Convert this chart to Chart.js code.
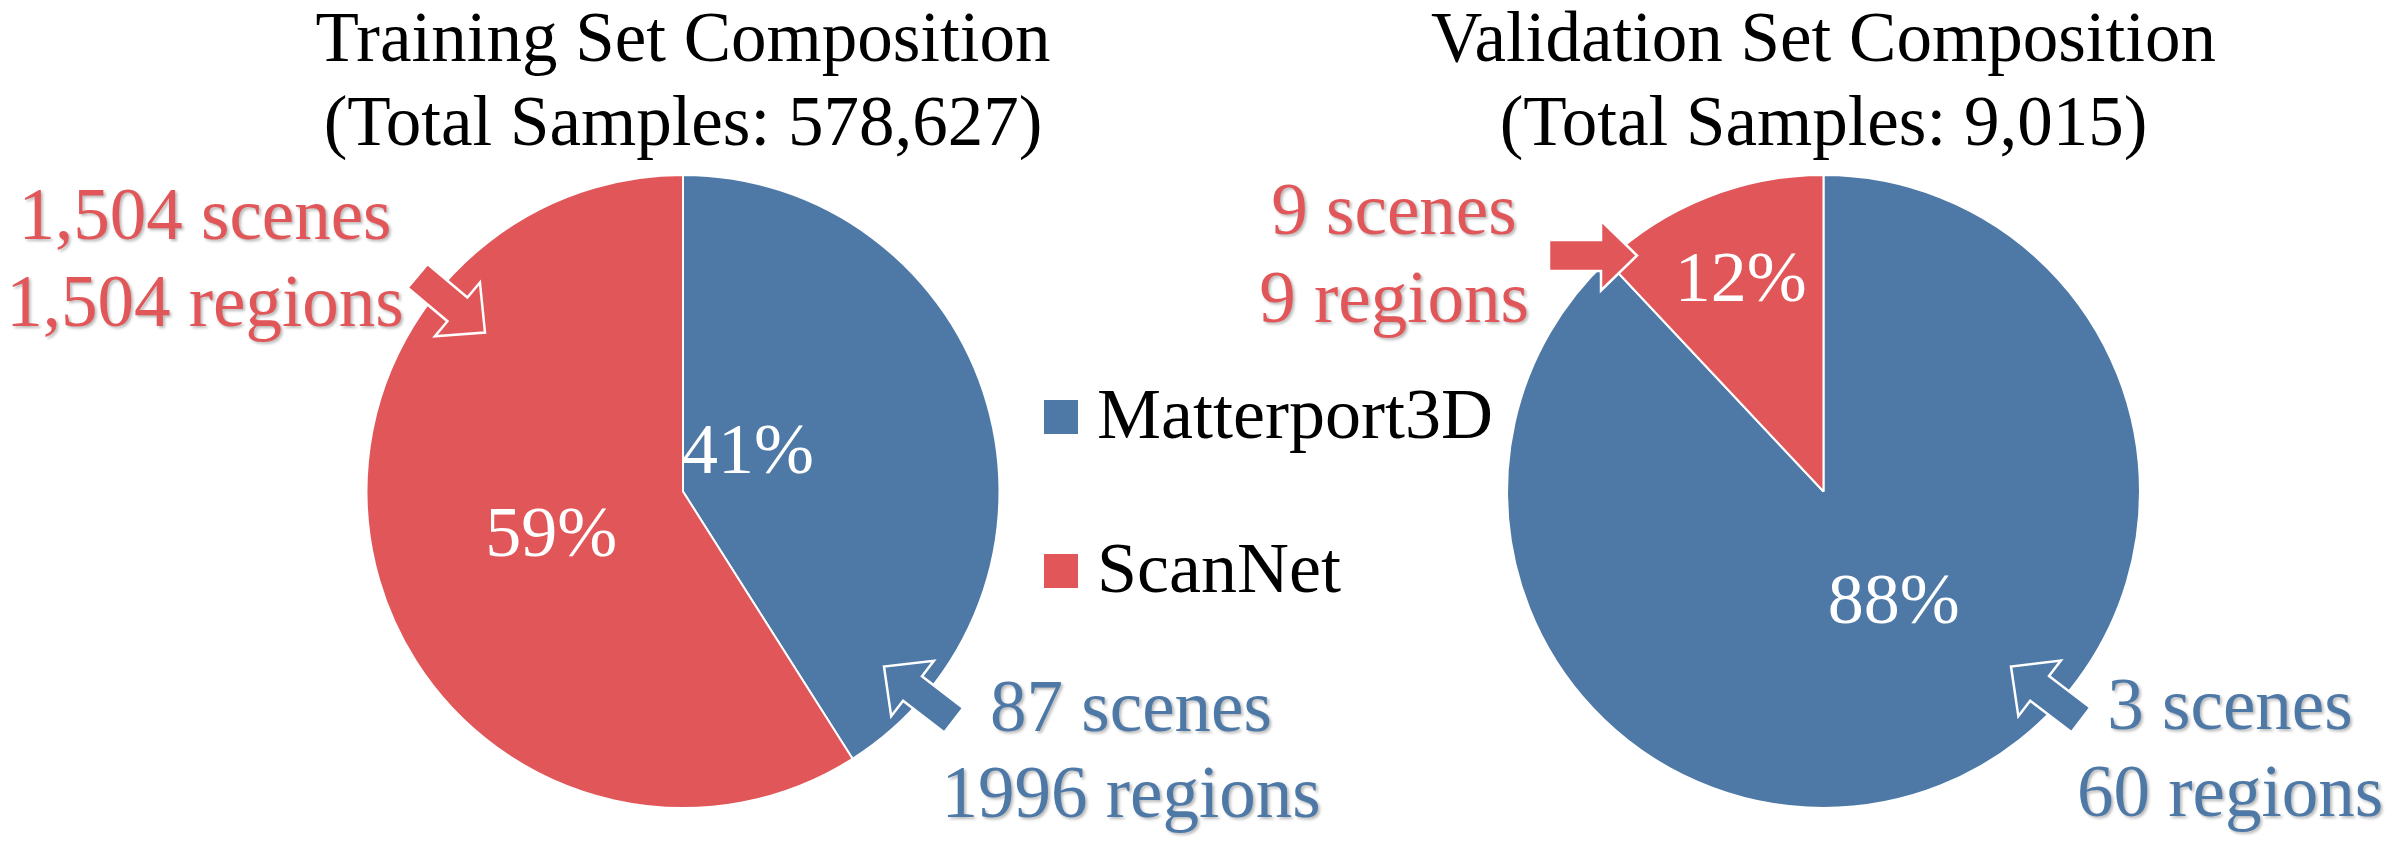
<!DOCTYPE html>
<html>
<head>
<meta charset="utf-8">
<script src="https://cdn.jsdelivr.net/npm/chart.js@4.4.1/dist/chart.umd.min.js"></script>
<style>
  html, body { margin: 0; padding: 0; background: #fff; overflow: hidden; }
  body { width: 2392px; height: 842px; position: relative; font-family: 'Liberation Serif', 'Times New Roman', serif; }
  .wrap { position: absolute; top: 0; height: 842px; }
  #trainWrap { left: 0; width: 1366px; }
  #valWrap { left: 1100px; width: 1447px; }
  .leg { position: absolute; left: 1044px; height: 34px; }
  .leg i { position: absolute; left: 0; top: 0; width: 34px; height: 34px; }
  .leg span { position: absolute; left: 53px; top: -22px; font-size: 72px; line-height: 72px; white-space: nowrap; color: #000; }
</style>
</head>
<body>
<div class="wrap" id="trainWrap"><canvas id="train"></canvas></div>
<div class="wrap" id="valWrap"><canvas id="val"></canvas></div>
<div id="legend"></div>
<script>
// data
const categories = ['Matterport3D', 'ScanNet'];
const colors = ['#4E79A7', '#E15759'];
const trainingShare = [41, 59];
const validationShare = [88, 12];
const trainingTotal = '578,627';
const validationTotal = '9,015';
const trainingNotes = [['87 scenes', '1996 regions'], ['1,504 scenes', '1,504 regions']];
const validationNotes = [['3 scenes', '60 regions'], ['9 scenes', '9 regions']];

Chart.defaults.font.family = "'Liberation Serif', 'Times New Roman', serif";

function drawArrow(ctx, tx, ty, angleDeg, color) {
  const L = 88, w = 31, W = 70, h = 36;
  const a = angleDeg * Math.PI / 180;
  const pts = [[-L, -w / 2], [-h, -w / 2], [-h, -W / 2], [0, 0], [-h, W / 2], [-h, w / 2], [-L, w / 2]];
  ctx.save();
  ctx.translate(tx, ty);
  ctx.rotate(a);
  ctx.beginPath();
  pts.forEach((p, i) => i ? ctx.lineTo(p[0], p[1]) : ctx.moveTo(p[0], p[1]));
  ctx.closePath();
  ctx.fillStyle = color;
  ctx.fill();
  ctx.lineWidth = 2.5;
  ctx.lineJoin = 'miter';
  ctx.strokeStyle = '#fff';
  ctx.stroke();
  ctx.restore();
}

const calloutPlugin = {
  id: 'callouts',
  afterDatasetsDraw(chart, args, opts) {
    const ctx = chart.ctx;
    const meta = chart.getDatasetMeta(0);
    const values = chart.data.datasets[0].data;
    const total = values.reduce((s, v) => s + v, 0);
    const cx = meta.data[0].x, cy = meta.data[0].y;

    // percentage labels inside slices
    ctx.save();
    ctx.font = '72px "Liberation Serif"';
    ctx.fillStyle = '#fff';
    ctx.textAlign = 'center';
    ctx.textBaseline = 'middle';
    meta.data.forEach((arc, i) => {
      const p = opts.pct[i];
      const mid = (arc.startAngle + arc.endAngle) / 2 + p.turn * Math.PI / 180;
      const r = arc.outerRadius * p.frac;
      ctx.fillText(Math.round(values[i] / total * 100) + '%', cx + r * Math.cos(mid), cy + r * Math.sin(mid));
    });
    ctx.restore();

    // arrows + notes
    opts.items.forEach(item => {
      const color = colors[item.index];
      drawArrow(ctx, cx + item.arrow[0], cy + item.arrow[1], item.arrow[2], color);
      ctx.save();
      ctx.font = '73px "Liberation Serif"';
      ctx.fillStyle = color;
      ctx.textAlign = 'center';
      ctx.textBaseline = 'alphabetic';
      ctx.shadowColor = 'rgba(0,0,0,0.28)';
      ctx.shadowOffsetX = 2;
      ctx.shadowOffsetY = 2;
      ctx.shadowBlur = 3;
      item.lines.forEach((t, j) => ctx.fillText(t, cx + item.dx, cy + item.dy[j]));
      ctx.restore();
    });
  }
};

function makePie(id, title, shares, pct, items) {
  return new Chart(document.getElementById(id), {
    type: 'pie',
    data: {
      labels: categories,
      datasets: [{
        data: shares,
        backgroundColor: colors,
        borderColor: '#fff',
        borderWidth: 2
      }]
    },
    options: {
      responsive: true,
      maintainAspectRatio: false,
      animation: false,
      layout: { padding: { top: 0, bottom: 33 } },
      plugins: {
        legend: { display: false },
        tooltip: { enabled: false },
        title: {
          display: true,
          text: title,
          color: '#000',
          font: { size: 71, weight: 'normal', lineHeight: 1.183 },
          padding: { top: 0, bottom: 6 }
        },
        callouts: { pct: pct, items: items }
      }
    },
    plugins: [calloutPlugin]
  });
}

makePie('train', ['Training Set Composition', '(Total Samples: ' + trainingTotal + ')'], trainingShare,
  [{ frac: 0.236, turn: -13.5 }, { frac: 0.44, turn: -2.8 }],
  [
    { index: 1, lines: trainingNotes[1], dx: -478, dy: [-252, -165], arrow: [-198, -159, 40] },
    { index: 0, lines: trainingNotes[0], dx: 448, dy: [240, 326], arrow: [201, 175, 217.6] }
  ]);

makePie('val', ['Validation Set Composition', '(Total Samples: ' + validationTotal + ')'], validationShare,
  [{ frac: 0.42, turn: -10.3 }, { frac: 0.71, turn: 0 }],
  [
    { index: 1, lines: validationNotes[1], dx: -429.5, dy: [-257, -169], arrow: [-186.5, -236, 0] },
    { index: 0, lines: validationNotes[0], dx: 406.5, dy: [238, 325], arrow: [187.5, 175, 217.4] }
  ]);

// legend
const legend = document.getElementById('legend');
const legTops = [400, 554];
categories.forEach((c, i) => {
  const d = document.createElement('div');
  d.className = 'leg';
  d.style.top = legTops[i] + 'px';
  d.innerHTML = '<i style="background:' + colors[i] + '"></i><span>' + c + '</span>';
  legend.appendChild(d);
});
</script>
</body>
</html>
